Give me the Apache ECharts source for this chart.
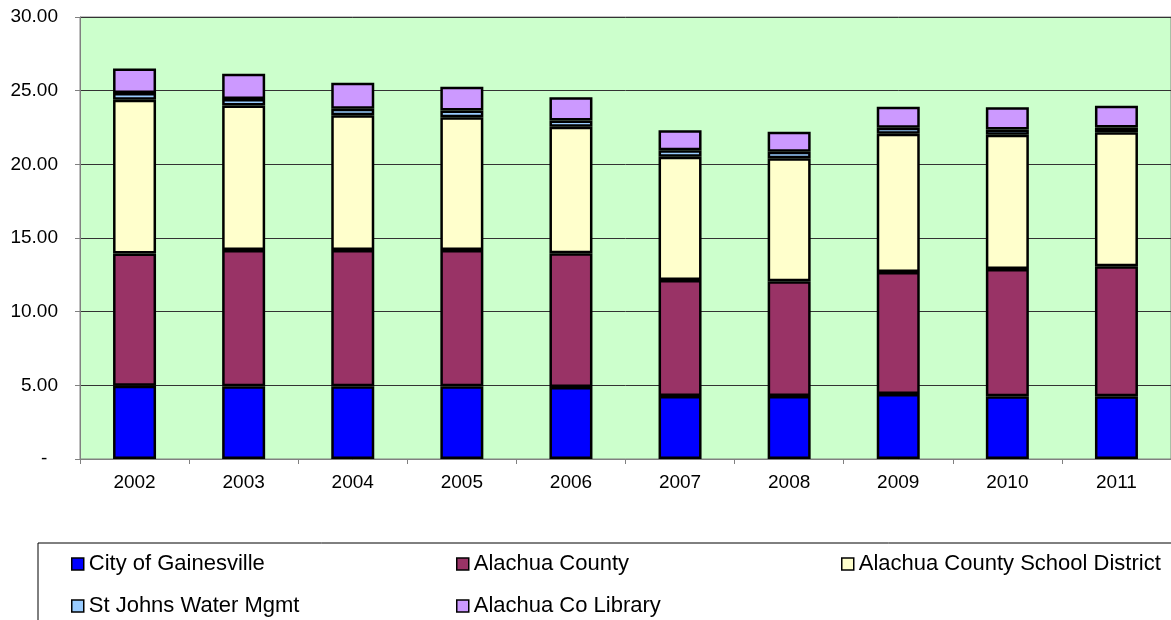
<!DOCTYPE html>
<html>
<head>
<meta charset="utf-8">
<script src="https://cdn.jsdelivr.net/npm/echarts@6/dist/echarts.min.js"></script>
<style>
  html, body { margin: 0; padding: 0; background: #fff; }
  #main { width: 1171px; height: 620px; }
</style>
</head>
<body>
<div id="main"></div>
<script>
const years = ['2002', '2003', '2004', '2005', '2006', '2007', '2008', '2009', '2010', '2011'];
const seriesNames = ['City of Gainesville', 'Alachua County', 'Alachua County School District', 'St Johns Water Mgmt', 'Alachua Co Library'];

// millage by taxing authority (stacked bottom to top)
const cityGainesville = [4.97, 4.93, 4.93, 4.93, 4.89, 4.28, 4.28, 4.41, 4.26, 4.26];
const alachuaCounty   = [8.97, 9.26, 9.26, 9.26, 9.08, 7.87, 7.78, 8.28, 8.63, 8.82];
const schoolDistrict  = [10.45, 9.81, 9.14, 9.00, 8.58, 8.37, 8.35, 9.39, 9.11, 9.09];
const stJohnsWater    = [0.46, 0.44, 0.45, 0.46, 0.43, 0.43, 0.45, 0.41, 0.37, 0.33];
const alachuaLibrary  = [1.65, 1.70, 1.75, 1.61, 1.58, 1.36, 1.36, 1.41, 1.50, 1.48];

const yTicks = { min: 0, max: 30, interval: 5 };

const colors = ['#0000FF', '#993366', '#FFFFCC', '#99CCFF', '#CC99FF'];
const values = [cityGainesville, alachuaCounty, schoolDistrict, stJohnsWater, alachuaLibrary];

// legend slots: [left, top] for each series
const legendSlots = [[71, 553], [456, 553], [841, 553], [71, 595], [456, 595]];

const font = 'Liberation Sans, Arial, sans-serif';
const chart = echarts.init(document.getElementById('main'));

const option = {
  animation: false,
  grid: {
    left: 80,
    top: 17,
    right: -7,
    bottom: 161,
    show: true,
    backgroundColor: '#CCFFCC',
    borderColor: '#808080',
    borderWidth: 1
  },
  legend: seriesNames.map((name, i) => ({
    left: legendSlots[i][0],
    top: legendSlots[i][1],
    padding: 0,
    icon: 'rect',
    itemWidth: 12,
    itemHeight: 12,
    selectedMode: false,
    data: [name],
    itemStyle: { borderColor: '#000', borderWidth: 1.5 },
    textStyle: { fontFamily: font, fontSize: 22, color: '#000' }
  })),
  graphic: [{
    type: 'rect',
    shape: { x: 38, y: 543, width: 1200, height: 200 },
    style: { fill: 'none', stroke: '#000', lineWidth: 1 },
    silent: true
  }],
  xAxis: {
    type: 'category',
    data: years,
    axisLine: { lineStyle: { color: '#808080', width: 1 } },
    axisTick: { show: true, length: 5, lineStyle: { color: '#808080' } },
    axisLabel: { fontFamily: font, fontSize: 19, color: '#000', margin: 14 }
  },
  yAxis: {
    type: 'value',
    min: yTicks.min,
    max: yTicks.max,
    interval: yTicks.interval,
    axisLine: { show: true, lineStyle: { color: '#808080', width: 1 } },
    axisTick: { show: true, length: 5, lineStyle: { color: '#808080' } },
    splitLine: { lineStyle: { color: '#333', width: 1 } },
    axisLabel: {
      fontFamily: font,
      fontSize: 19,
      color: '#000',
      margin: 22,
      formatter: (v) => (v === 0 ? '-  ' : v.toFixed(2))
    }
  },
  series: seriesNames.map((name, i) => ({
    name: name,
    type: 'bar',
    stack: 'total',
    barWidth: 43,
    data: values[i],
    itemStyle: { color: colors[i], borderColor: '#000', borderWidth: 2.5 }
  }))
};

chart.setOption(option);
</script>
</body>
</html>
